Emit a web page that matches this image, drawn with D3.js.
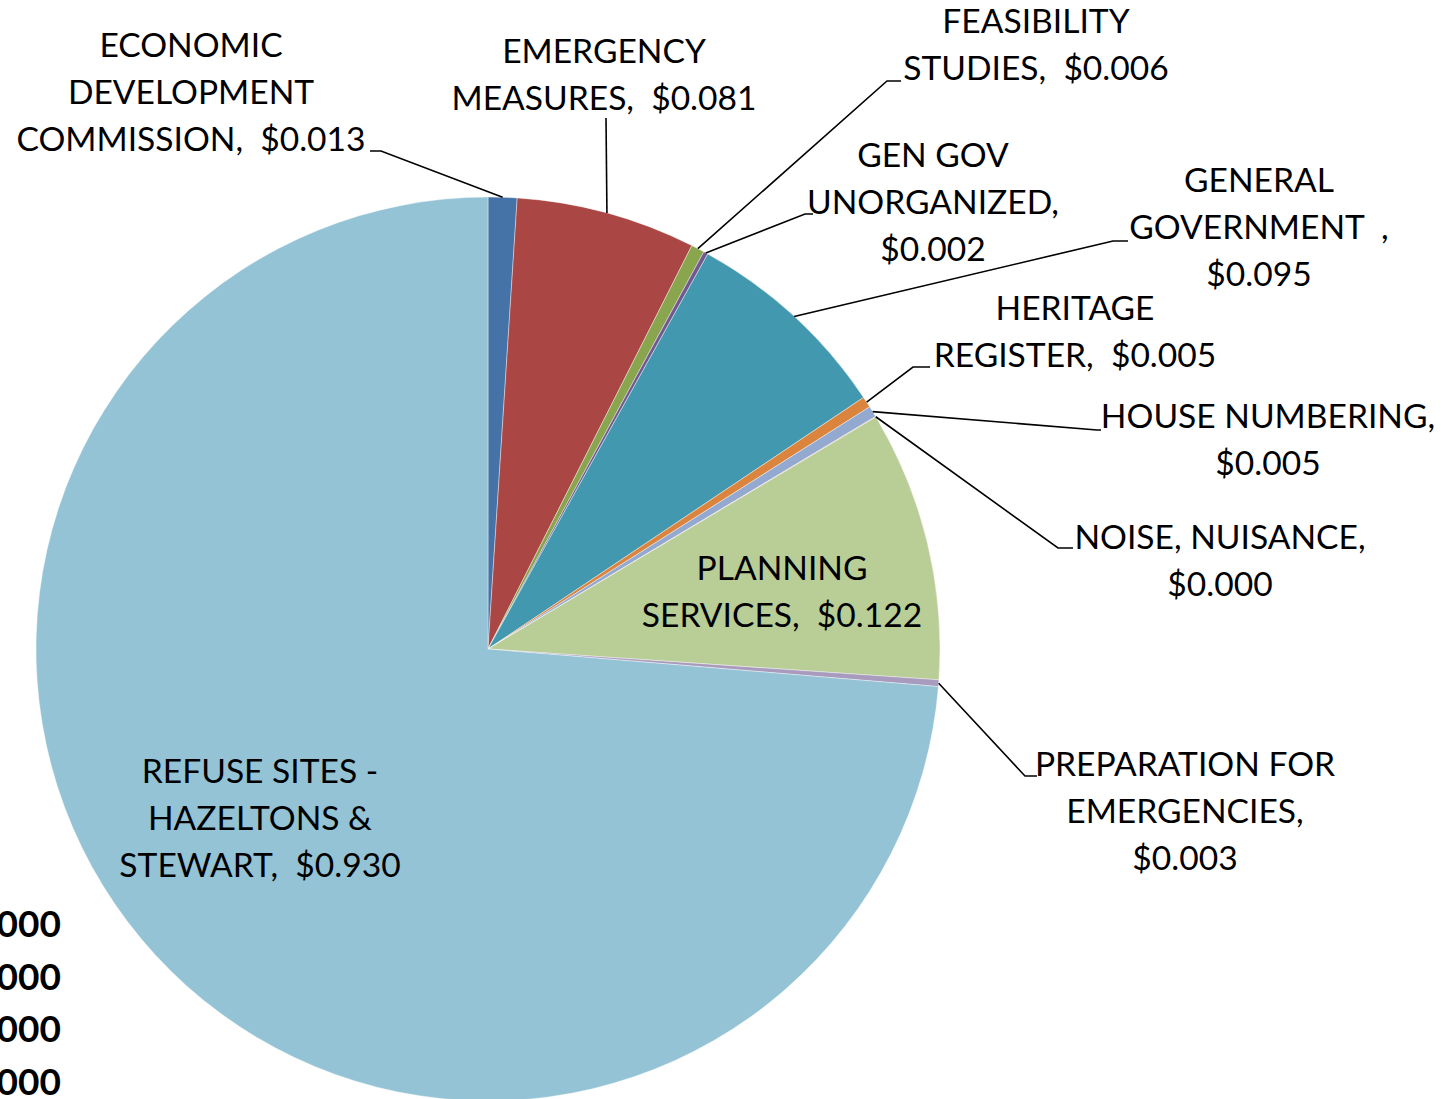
<!DOCTYPE html>
<html>
<head>
<meta charset="utf-8">
<script src="https://cdn.jsdelivr.net/npm/d3@7"></script>
<style>
  body { margin: 0; background: #fff; }
  svg text { font-family: Lato, "Open Sans", sans-serif; fill: #000; }
</style>
</head>
<body>
<svg id="chart" width="1441" height="1099"></svg>
<script>
// data
const categories = ["ECONOMIC DEVELOPMENT COMMISSION", "EMERGENCY MEASURES", "FEASIBILITY STUDIES",
  "GEN GOV UNORGANIZED", "GENERAL GOVERNMENT ", "HERITAGE REGISTER", "HOUSE NUMBERING",
  "NOISE, NUISANCE", "PLANNING SERVICES", "PREPARATION FOR EMERGENCIES", "REFUSE SITES - HAZELTONS & STEWART"];
const values = [0.013, 0.081, 0.006, 0.002, 0.095, 0.005, 0.005, 0.0003, 0.122, 0.003, 0.930];
const valueLabels = ["$0.013", "$0.081", "$0.006", "$0.002", "$0.095", "$0.005", "$0.005", "$0.000", "$0.122", "$0.003", "$0.930"];
// label lines as they wrap in the picture
const labelLines = [
  ["ECONOMIC", "DEVELOPMENT", "COMMISSION,  $0.013"],
  ["EMERGENCY", "MEASURES,  $0.081"],
  ["FEASIBILITY", "STUDIES,  $0.006"],
  ["GEN GOV", "UNORGANIZED,", "$0.002"],
  ["GENERAL", "GOVERNMENT  ,", "$0.095"],
  ["HERITAGE", "REGISTER,  $0.005"],
  ["HOUSE NUMBERING,", "$0.005"],
  ["NOISE, NUISANCE,", "$0.000"],
  ["PLANNING", "SERVICES,  $0.122"],
  ["PREPARATION FOR", "EMERGENCIES,", "$0.003"],
  ["REFUSE SITES -", "HAZELTONS &", "STEWART,  $0.930"]
];
const colors = ["#4572A7", "#AA4643", "#89A54E", "#71588F", "#4198AF", "#DB843D",
  "#93A9CF", "#D19392", "#B9CD96", "#A99BBD", "#93C3D4"];
const clippedTicks = ["000", "000", "000", "000"];

// layout
const cx = 488, cy = 649, r = 452;
const lineH = 47;
// label block: center x, first baseline y
const labelPos = [
  [191, 57], [604, 63], [1036, 33], [933, 167], [1259, 192], [1075, 320],
  [1268, 428], [1220, 549], [782, 580], [1185, 776], [260, 783]
];
// leader elbows: [elbowX, elbowY, endX]
const leaders = [
  [381, 151, 370], [606, 118, 606], [887, 81, 901], [805, 214, 813], [1113, 241, 1128],
  [913, 367, 930], [1097, 430, 1101], [1058, 548, 1073], null, [1025, 776, 1037], null
];

const svg = d3.select("#chart");

const pie = d3.pie().sort(null).value(d => d);
const arcs = pie(values);
const arc = d3.arc().innerRadius(0).outerRadius(r);

const g = svg.append("g").attr("transform", `translate(${cx},${cy})`);
g.selectAll("path.slice")
  .data(arcs)
  .enter()
  .append("path")
  .attr("class", "slice")
  .attr("d", arc)
  .attr("fill", (d, i) => colors[i])
  .attr("stroke", "#fff")
  .attr("stroke-width", 0.4);

// leader lines
arcs.forEach((d, i) => {
  const l = leaders[i];
  if (!l) return;
  const a = (d.startAngle + d.endAngle) / 2;
  const px = cx + r * Math.sin(a), py = cy - r * Math.cos(a);
  svg.append("polyline")
    .attr("points", `${px},${py} ${l[0]},${l[1]} ${l[2]},${l[1]}`)
    .attr("fill", "none")
    .attr("stroke", "#000")
    .attr("stroke-width", 1.6);
});

// labels
labelLines.forEach((lines, i) => {
  const t = svg.append("text")
    .attr("text-anchor", "middle")
    .attr("font-size", 33.6);
  lines.forEach((s, j) => {
    t.append("tspan")
      .attr("x", labelPos[i][0])
      .attr("y", labelPos[i][1] + j * lineH)
      .attr("xml:space", "preserve")
      .text(s);
  });
});

// clipped bold texts at lower left
svg.selectAll("text.tick")
  .data(clippedTicks)
  .enter()
  .append("text")
  .attr("class", "tick")
  .attr("x", 61)
  .attr("y", (d, i) => 937 + i * 52.7)
  .attr("text-anchor", "end")
  .attr("font-size", 37)
  .attr("font-weight", "bold")
  .text(d => d);
</script>
</body>
</html>
